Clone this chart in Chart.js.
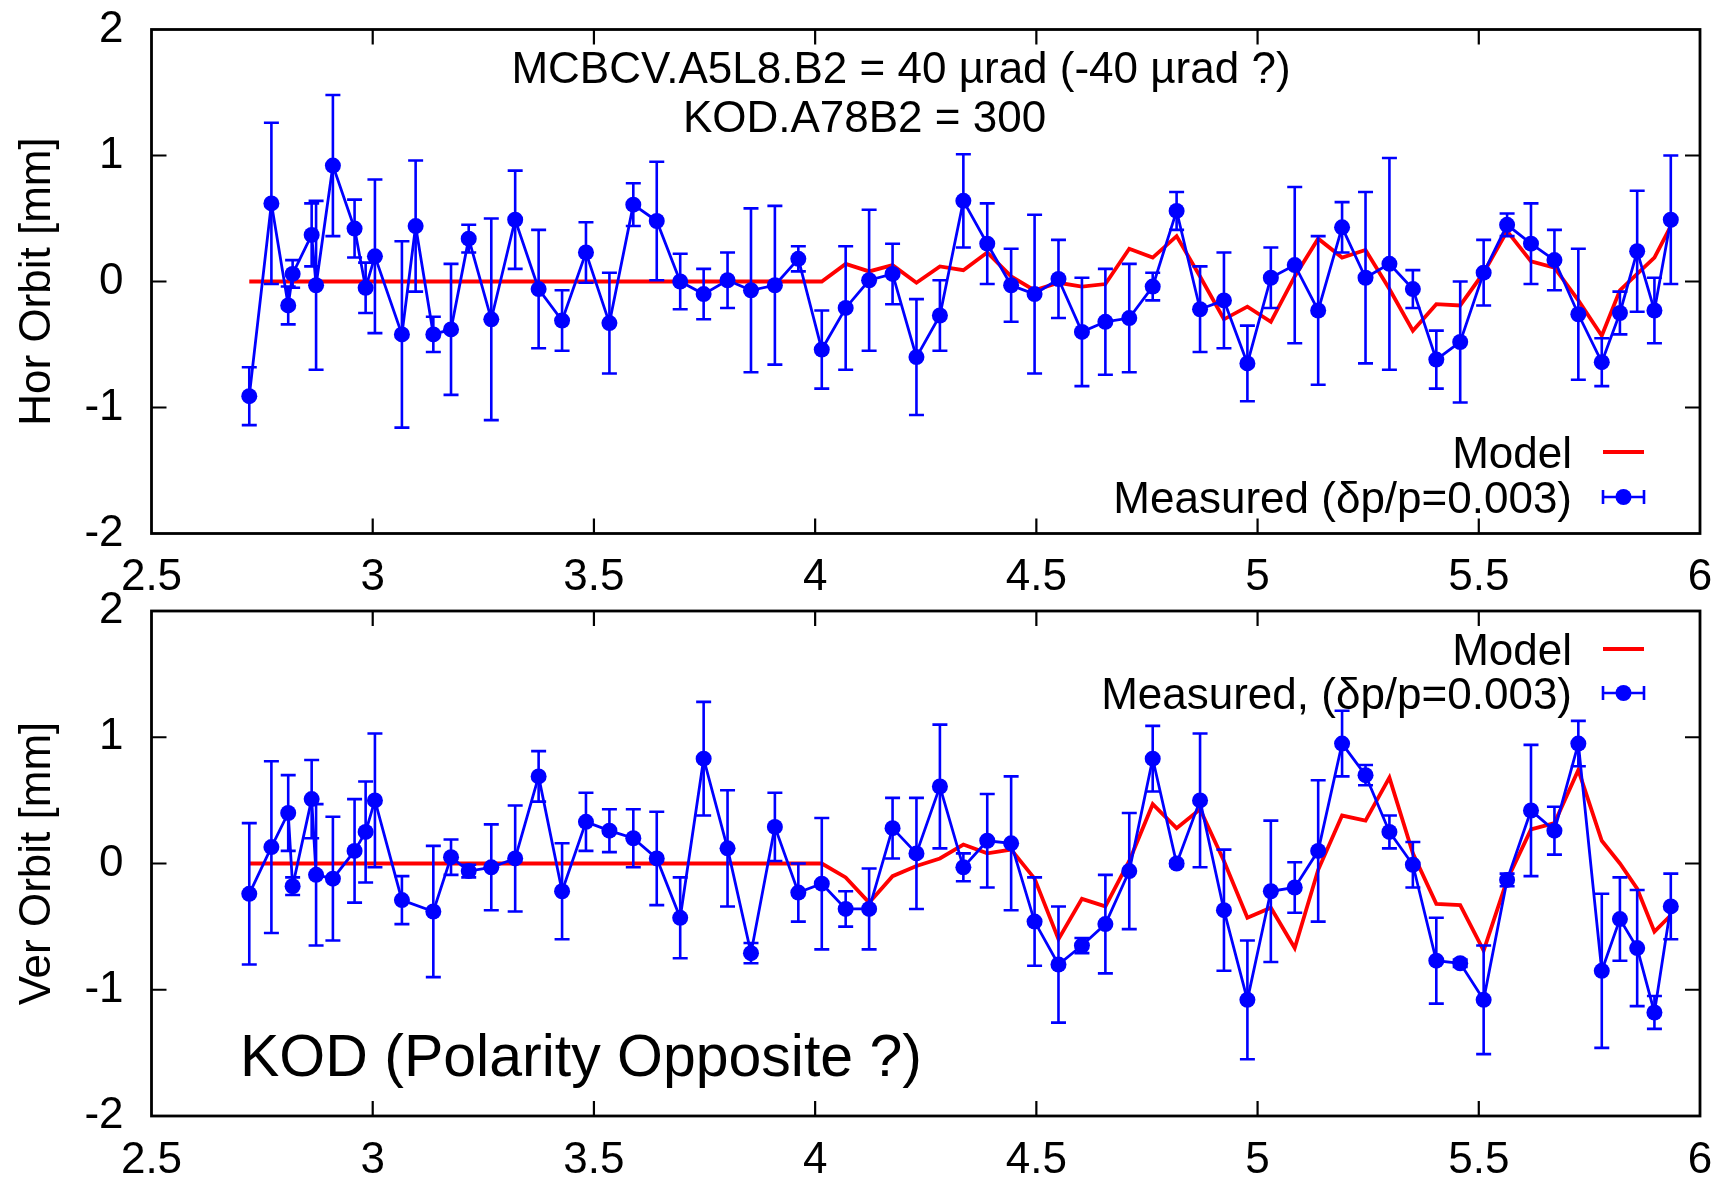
<!DOCTYPE html>
<html><head><meta charset="utf-8">
<script src="https://cdn.jsdelivr.net/npm/chart.js@4/dist/chart.umd.min.js"></script>
<style>
html,body{margin:0;padding:0;background:#fff;}
body{width:1719px;height:1183px;position:relative;overflow:hidden;}
canvas{position:absolute;left:0;}
#c1{top:0px;}
#c2{top:583px;}
</style></head><body>
<canvas id="c1" width="1719" height="600"></canvas>
<canvas id="c2" width="1719" height="600"></canvas>
<script>
// ---------- data ----------
const sTop = [2.721, 2.771, 2.809, 2.819, 2.862, 2.872, 2.910, 2.959, 2.984, 3.005, 3.066, 3.097, 3.137, 3.177, 3.217, 3.268, 3.322, 3.375, 3.428, 3.482, 3.535, 3.589, 3.642, 3.695, 3.748, 3.802, 3.855, 3.909, 3.962, 4.015, 4.069, 4.122, 4.175, 4.229, 4.282, 4.335, 4.389, 4.443, 4.496, 4.550, 4.603, 4.656, 4.710, 4.763, 4.817, 4.870, 4.924, 4.977, 5.030, 5.084, 5.137, 5.191, 5.244, 5.298, 5.351, 5.404, 5.458, 5.511, 5.564, 5.618, 5.671, 5.725, 5.778, 5.819, 5.858, 5.897, 5.934];
const horMeasured = [-0.91, 0.62, -0.19, 0.06, 0.37, -0.03, 0.92, 0.42, -0.05, 0.20, -0.42, 0.44, -0.42, -0.38, 0.34, -0.30, 0.49, -0.06, -0.31, 0.23, -0.33, 0.61, 0.48, 0.00, -0.10, 0.01, -0.07, -0.03, 0.18, -0.54, -0.21, 0.01, 0.06, -0.60, -0.27, 0.64, 0.30, -0.03, -0.10, 0.02, -0.40, -0.32, -0.29, -0.04, 0.56, -0.22, -0.15, -0.65, 0.03, 0.13, -0.23, 0.43, 0.03, 0.14, -0.06, -0.62, -0.48, 0.07, 0.45, 0.30, 0.17, -0.26, -0.64, -0.25, 0.24, -0.23, 0.49];
const horError = [0.23, 0.64, 0.15, 0.11, 0.25, 0.67, 0.56, 0.23, 0.20, 0.61, 0.74, 0.52, 0.14, 0.52, 0.11, 0.80, 0.39, 0.47, 0.24, 0.24, 0.40, 0.17, 0.47, 0.22, 0.20, 0.22, 0.65, 0.63, 0.10, 0.31, 0.49, 0.56, 0.24, 0.46, 0.28, 0.37, 0.32, 0.29, 0.63, 0.31, 0.43, 0.42, 0.43, 0.11, 0.15, 0.34, 0.38, 0.30, 0.24, 0.62, 0.59, 0.20, 0.68, 0.84, 0.15, 0.23, 0.48, 0.26, 0.09, 0.32, 0.24, 0.52, 0.19, 0.17, 0.48, 0.26, 0.51];
const horModel = [0, 0, 0, 0, 0, 0, 0, 0, 0, 0, 0, 0, 0, 0, 0, 0, 0, 0, 0, 0, 0, 0, 0, 0, 0, 0, 0, 0, 0, 0, 0.14, 0.08, 0.13, -0.01, 0.12, 0.09, 0.23, 0.04, -0.07, -0.01, -0.04, -0.02, 0.26, 0.19, 0.36, 0.04, -0.30, -0.20, -0.32, 0.04, 0.34, 0.19, 0.25, -0.06, -0.39, -0.18, -0.19, 0.07, 0.40, 0.16, 0.11, -0.15, -0.43, -0.07, 0.06, 0.19, 0.44];

const sBottom = [2.721, 2.771, 2.809, 2.819, 2.862, 2.872, 2.910, 2.959, 2.984, 3.005, 3.066, 3.137, 3.177, 3.217, 3.268, 3.322, 3.375, 3.428, 3.482, 3.535, 3.589, 3.642, 3.695, 3.748, 3.802, 3.855, 3.909, 3.962, 4.015, 4.069, 4.122, 4.175, 4.229, 4.282, 4.335, 4.389, 4.443, 4.496, 4.550, 4.603, 4.656, 4.710, 4.763, 4.817, 4.870, 4.924, 4.977, 5.030, 5.084, 5.137, 5.191, 5.244, 5.298, 5.351, 5.404, 5.458, 5.511, 5.564, 5.618, 5.671, 5.725, 5.778, 5.819, 5.858, 5.897, 5.934];
const verMeasured = [-0.24, 0.13, 0.40, -0.18, 0.51, -0.09, -0.12, 0.10, 0.25, 0.50, -0.29, -0.38, 0.05, -0.06, -0.03, 0.04, 0.69, -0.22, 0.33, 0.26, 0.20, 0.04, -0.43, 0.83, 0.12, -0.71, 0.29, -0.23, -0.16, -0.36, -0.36, 0.28, 0.08, 0.61, -0.03, 0.18, 0.16, -0.46, -0.80, -0.65, -0.48, -0.06, 0.83, 0.00, 0.50, -0.37, -1.08, -0.22, -0.19, 0.10, 0.95, 0.70, 0.25, -0.01, -0.77, -0.79, -1.08, -0.13, 0.42, 0.26, 0.95, -0.85, -0.44, -0.67, -1.18, -0.34];
const verError = [0.56, 0.68, 0.30, 0.07, 0.31, 0.56, 0.49, 0.41, 0.40, 0.53, 0.19, 0.52, 0.14, 0.05, 0.34, 0.42, 0.20, 0.38, 0.23, 0.17, 0.23, 0.37, 0.32, 0.45, 0.46, 0.08, 0.27, 0.23, 0.52, 0.14, 0.32, 0.24, 0.44, 0.49, 0.11, 0.37, 0.53, 0.35, 0.46, 0.06, 0.39, 0.46, 0.26, 0.02, 0.53, 0.48, 0.47, 0.56, 0.20, 0.56, 0.26, 0.08, 0.13, 0.18, 0.34, 0.03, 0.43, 0.05, 0.52, 0.19, 0.18, 0.61, 0.33, 0.46, 0.13, 0.26];
const verModel = [0, 0, 0, 0, 0, 0, 0, 0, 0, 0, 0, 0, 0, 0, 0, 0, 0, 0, 0, 0, 0, 0, 0, 0, 0, 0, 0, 0, 0, -0.11, -0.31, -0.10, -0.02, 0.04, 0.15, 0.08, 0.11, -0.12, -0.60, -0.28, -0.34, 0.02, 0.47, 0.28, 0.43, 0.02, -0.43, -0.35, -0.67, -0.05, 0.38, 0.34, 0.68, 0.08, -0.32, -0.33, -0.69, -0.13, 0.27, 0.32, 0.74, 0.18, 0.00, -0.20, -0.54, -0.41];

const xTickLabels = ['2.5', '3', '3.5', '4', '4.5', '5', '5.5', '6'];
const yTickLabels = ['-2', '-1', '0', '1', '2'];
const topTitle = 'Hor Orbit [mm]';
const bottomTitle = 'Ver Orbit [mm]';
const topLegend = ['Model', 'Measured (\u03b4p/p=0.003)'];
const bottomLegend = ['Model', 'Measured, (\u03b4p/p=0.003)'];
const topNotes = ['MCBCV.A5L8.B2 = 40 \u00b5rad (-40 \u00b5rad ?)', 'KOD.A78B2 = 300'];
const bottomNote = 'KOD (Polarity Opposite ?)';

// ---------- styling ----------
const FONT = '"Liberation Sans", Arial, Helvetica, sans-serif';
const BLUE = '#0000ff';
const RED = '#ff0000';

function pts(xs, ys) { return xs.map((x, i) => ({x: x, y: ys[i]})); }

const panelPlugin = {
  id: 'panel',
  beforeDatasetDraw(chart, args) {
    const ds = chart.data.datasets[args.index];
    if (!ds.errors) return;
    const ctx = chart.ctx, xs = chart.scales.x, ys = chart.scales.y;
    ctx.save();
    ctx.strokeStyle = ds.borderColor;
    ctx.lineWidth = 2.6;
    ctx.lineCap = 'butt';
    ds.data.forEach((p, i) => {
      const e = ds.errors[i];
      const px = xs.getPixelForValue(p.x);
      const y1 = ys.getPixelForValue(p.y + e);
      const y2 = ys.getPixelForValue(p.y - e);
      ctx.beginPath();
      ctx.moveTo(px, y1); ctx.lineTo(px, y2);
      ctx.moveTo(px - 7.5, y1); ctx.lineTo(px + 7.5, y1);
      ctx.moveTo(px - 7.5, y2); ctx.lineTo(px + 7.5, y2);
      ctx.stroke();
    });
    ctx.restore();
  },
  afterDraw(chart, args, opts) {
    const ctx = chart.ctx;
    const {left, right, top, bottom} = chart.chartArea;
    const xs = chart.scales.x, ys = chart.scales.y;
    ctx.save();
    // inward ticks
    ctx.strokeStyle = '#000';
    ctx.lineWidth = 2.2;
    ctx.beginPath();
    xs.ticks.forEach(t => {
      const px = xs.getPixelForValue(t.value);
      if (px <= left + 2 || px >= right - 2) return;
      ctx.moveTo(px, bottom); ctx.lineTo(px, bottom - 15);
      ctx.moveTo(px, top); ctx.lineTo(px, top + 15);
    });
    ys.ticks.forEach(t => {
      const py = ys.getPixelForValue(t.value);
      if (py <= top + 2 || py >= bottom - 2) return;
      ctx.moveTo(left, py); ctx.lineTo(left + 15, py);
      ctx.moveTo(right, py); ctx.lineTo(right - 15, py);
    });
    ctx.stroke();
    // frame
    ctx.lineWidth = 2.8;
    ctx.strokeRect(left, top, right - left, bottom - top);

    // notes
    ctx.fillStyle = '#000';
    ctx.textBaseline = 'alphabetic';
    (opts.notes || []).forEach(n => {
      ctx.font = n.size + 'px ' + FONT;
      ctx.textAlign = n.align;
      ctx.fillText(n.text, n.x, n.y + 0.358 * n.size);
    });

    // legend
    const lg = opts.legend;
    if (lg) {
      ctx.font = '44px ' + FONT;
      ctx.textAlign = 'right';
      lg.items.forEach(it => {
        ctx.fillStyle = '#000';
        ctx.fillText(it.text, lg.textRight, it.y + 0.358 * 44);
        if (it.kind === 'line') {
          ctx.strokeStyle = it.color; ctx.lineWidth = 3.8;
          ctx.beginPath(); ctx.moveTo(lg.x1, it.y); ctx.lineTo(lg.x2, it.y); ctx.stroke();
        } else {
          ctx.strokeStyle = it.color; ctx.lineWidth = 2.6;
          ctx.beginPath();
          ctx.moveTo(lg.x1, it.y); ctx.lineTo(lg.x2, it.y);
          ctx.moveTo(lg.x1, it.y - 7); ctx.lineTo(lg.x1, it.y + 7);
          ctx.moveTo(lg.x2, it.y - 7); ctx.lineTo(lg.x2, it.y + 7);
          ctx.stroke();
          ctx.fillStyle = it.color;
          ctx.beginPath(); ctx.arc((lg.x1 + lg.x2) / 2, it.y, 8, 0, Math.PI * 2); ctx.fill();
        }
      });
    }
    ctx.restore();
  }
};

function makeChart(id, xs, meas, err, model, title, padTop, xAxisH, pluginOpts) {
  return new Chart(document.getElementById(id), {
    type: 'line',
    data: {
      datasets: [
        {
          label: 'Measured', data: pts(xs, meas), errors: err, order: 0,
          borderColor: BLUE, backgroundColor: BLUE, borderWidth: 2.8, tension: 0,
          pointRadius: 8, pointBackgroundColor: BLUE, pointBorderWidth: 0, pointHoverRadius: 8
        },
        {
          label: 'Model', data: pts(xs, model), order: 1,
          borderColor: RED, backgroundColor: RED, borderWidth: 3.8, tension: 0,
          pointRadius: 0, pointHoverRadius: 0
        }
      ]
    },
    options: {
      responsive: false, animation: false, events: [],
      devicePixelRatio: 1,
      layout: {padding: {left: 0, right: 19, top: padTop, bottom: 0}},
      plugins: {legend: {display: false}, tooltip: {enabled: false}, panel: pluginOpts},
      scales: {
        x: {
          type: 'linear', min: 2.5, max: 6,
          grid: {display: false, drawTicks: false},
          border: {display: false},
          ticks: {
            stepSize: 0.5, autoSkip: false, maxRotation: 0, padding: 18,
            color: '#000', font: {family: FONT, size: 44},
            callback: (v, i) => xTickLabels[i]
          },
          afterFit: s => { s.height = xAxisH; s.paddingLeft = 0; s.paddingRight = 0; }
        },
        y: {
          type: 'linear', min: -2, max: 2,
          grid: {display: false, drawTicks: false},
          border: {display: false},
          ticks: {
            stepSize: 1, autoSkip: false, padding: 28,
            color: '#000', font: {family: FONT, size: 44},
            callback: (v, i) => yTickLabels[i]
          },
          title: {display: true, text: title, color: '#000', font: {family: FONT, size: 44}, padding: {top: 11.6, bottom: 0}},
          afterFit: s => { s.width = 151.5; s.paddingTop = 0; s.paddingBottom = 0; }
        }
      }
    },
    plugins: [panelPlugin]
  });
}

makeChart('c1', sTop, horMeasured, horError, horModel, topTitle, 29.5, 66.5, {
  notes: [
    {text: topNotes[0], x: 901, y: 67, size: 44, align: 'center'},
    {text: topNotes[1], x: 864.5, y: 116, size: 44, align: 'center'}
  ],
  legend: {textRight: 1572, x1: 1603, x2: 1644, items: [
    {text: topLegend[0], y: 452, kind: 'line', color: RED},
    {text: topLegend[1], y: 497, kind: 'err', color: BLUE}
  ]}
});

makeChart('c2', sBottom, verMeasured, verError, verModel, bottomTitle, 28, 67, {
  notes: [
    {text: bottomNote, x: 240, y: 472, size: 59, align: 'left'}
  ],
  legend: {textRight: 1572, x1: 1603, x2: 1644, items: [
    {text: bottomLegend[0], y: 66, kind: 'line', color: RED},
    {text: bottomLegend[1], y: 110, kind: 'err', color: BLUE}
  ]}
});
</script>
</body></html>
